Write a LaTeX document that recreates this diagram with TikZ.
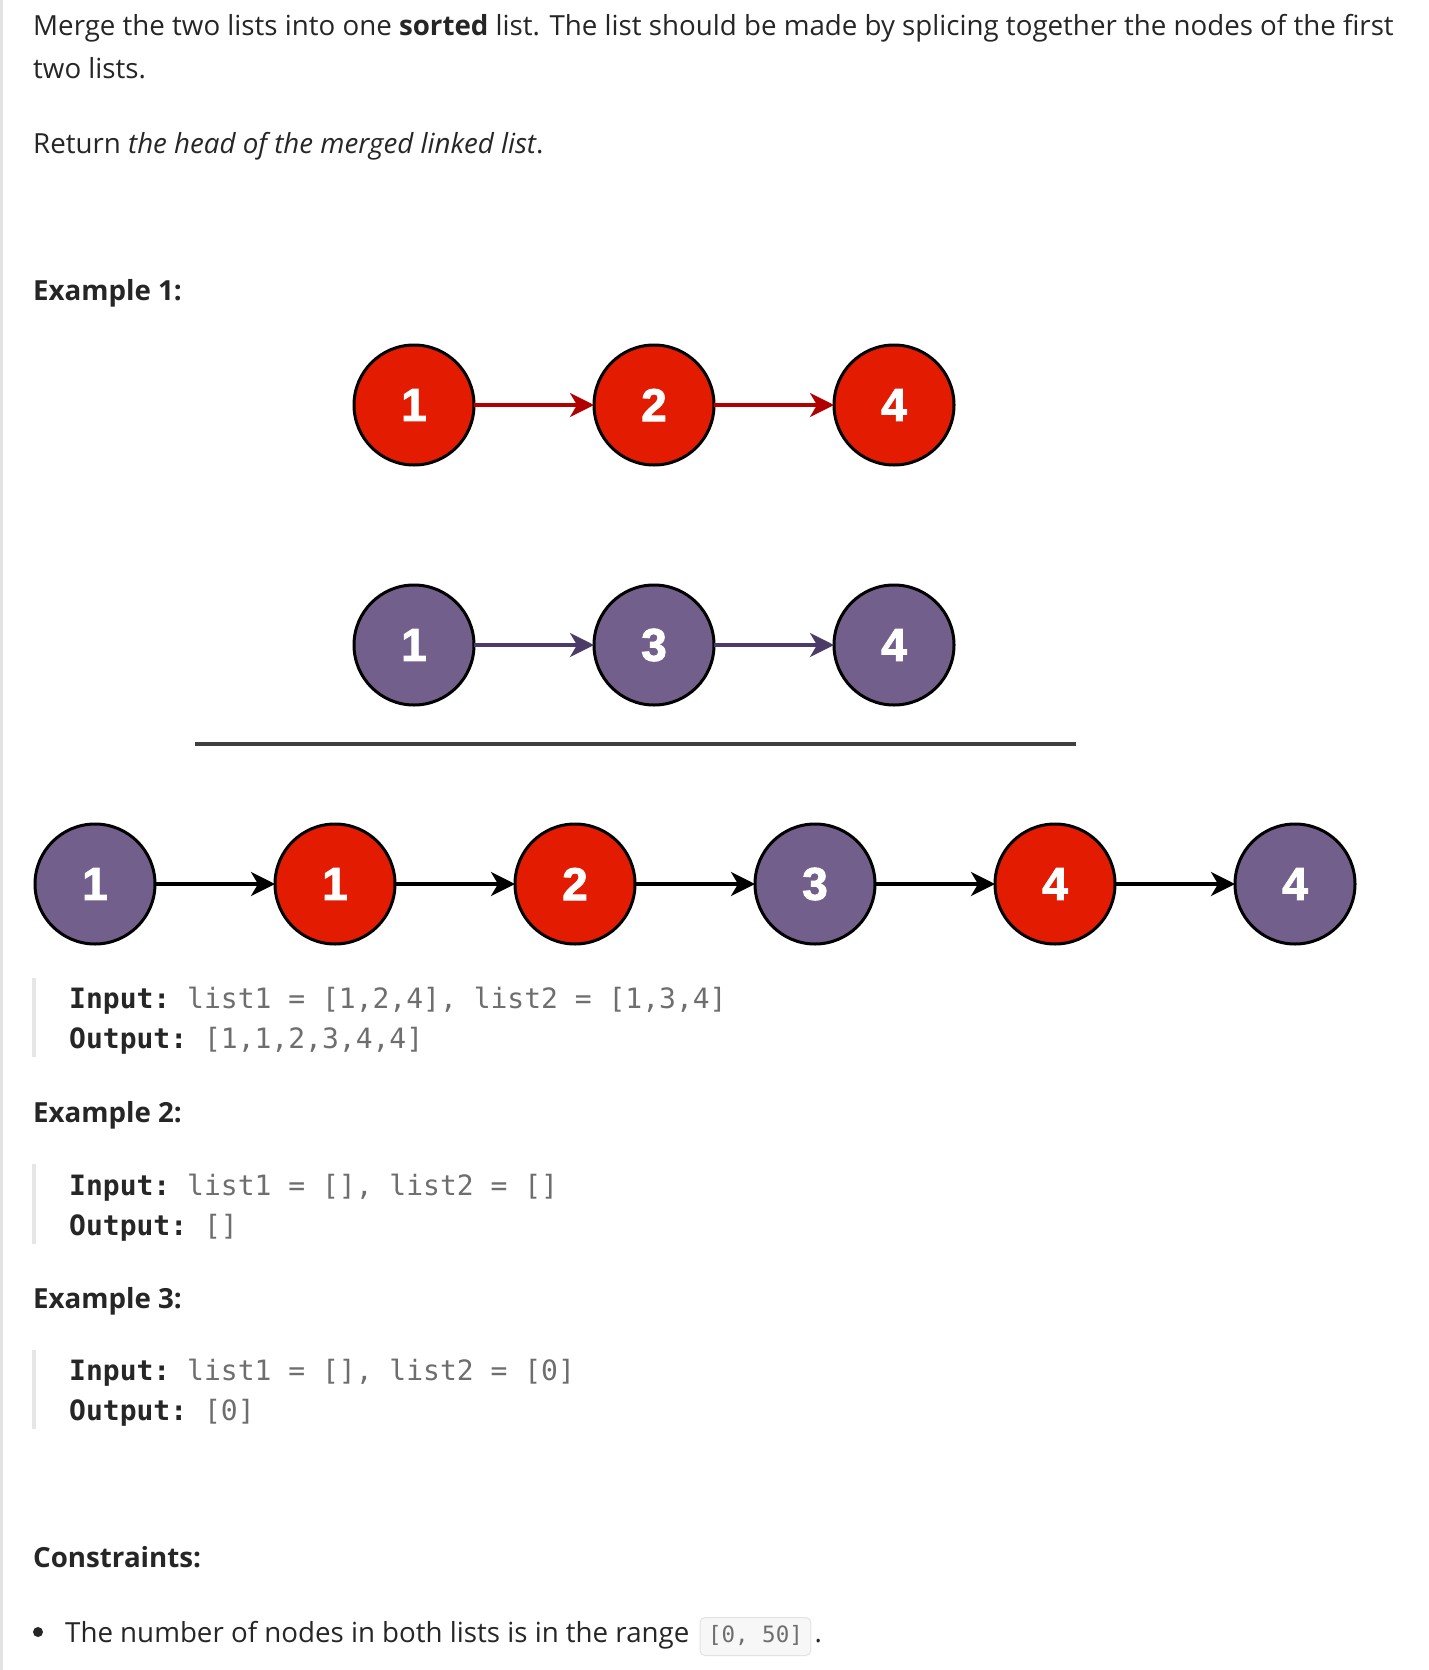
\documentclass[tikz,border=0pt]{standalone}
\usepackage{fontspec}
\setmainfont{Open Sans}
\setmonofont{DejaVu Sans Mono}
\newfontfamily\digitfont{Liberation Sans Bold}[FakeBold=2]
\usetikzlibrary{arrows.meta,positioning}
\definecolor{txtcol}{HTML}{262626}
\definecolor{codegray}{HTML}{6E6E6E}
\definecolor{nodered}{HTML}{E31B00}
\definecolor{nodepurple}{HTML}{735F8C}
\definecolor{linkred}{HTML}{B00000}
\definecolor{linkpurple}{HTML}{4B3B66}
\definecolor{rulecol}{HTML}{404040}
\definecolor{barcol}{HTML}{E6E6E6}
\definecolor{pagecol}{HTML}{E3E3E3}
\definecolor{inlinebg}{HTML}{F7F7F7}
\definecolor{inlinebd}{HTML}{E3E3E3}
\newcommand{\inlbl}[1]{\textbf{\textcolor{txtcol}{#1}}}

\begin{document}
\begin{tikzpicture}[x=1pt, y=-1pt, node distance=120pt,
              >={Stealth[length=24pt,width=24pt,inset=7pt]},
         rnode/.style = {circle, draw=black, line width=3pt, fill=nodered, minimum size=120pt,
                         inner sep=0pt, outer sep=0pt, text=white,
                         font=\digitfont\fontsize{46}{46}\selectfont},
         pnode/.style = {rnode, fill=nodepurple},
           txt/.style = {anchor=base west, inner sep=0pt, text=txtcol, font=\fontsize{27.7}{33}\selectfont},
          head/.style = {txt, font=\bfseries\fontsize{27.7}{33}\selectfont},
          code/.style = {anchor=base west, inner sep=0pt, text=codegray, font=\ttfamily\fontsize{28}{34}\selectfont},
           inl/.style = {draw=inlinebd, fill=inlinebg, rounded corners=5pt, line width=1pt, text=codegray,
                         inner xsep=8pt, inner ysep=8.5pt, text height=16pt, text depth=5pt,
                         font=\ttfamily\fontsize{22.5}{26}\selectfont},
          link/.style = {line width=3.5pt},
]
\fill[white] (0,0) rectangle (1428,1670);
\useasboundingbox (0,0) rectangle (1428,1670);
\fill[pagecol] (0,0) rectangle (2.5,1670);

%% problem text
\node [txt] (intro1) at (33,36) {Merge the two lists into one \textbf{sorted} list. The list should be made by splicing together the nodes of the first};
\node [txt] (intro2) at (33,78) {two lists.};
\node [txt] (intro3) at (33,153) {Return \textit{the head of the merged linked list}.};

%% example 1
\node [head] (ex1) at (33,300) {Example 1:};
\node [rnode]               (a1) at (414,405) {1};
\node [rnode, right=of a1]  (a2) {2};
\node [rnode, right=of a2]  (a4) {4};
\node [pnode]               (b1) at (414,645) {1};
\node [pnode, right=of b1]  (b3) {3};
\node [pnode, right=of b3]  (b4) {4};
\coordinate (rule w) at (195,744);
\coordinate (rule e) at (1076,744);
\draw [rulecol, line width=4pt] (rule w) -- (rule e);
\node [pnode]               (m1) at (95,884) {1};
\node [rnode, right=of m1]  (m2) {1};
\node [rnode, right=of m2]  (m3) {2};
\node [pnode, right=of m3]  (m4) {3};
\node [rnode, right=of m4]  (m5) {4};
\node [pnode, right=of m5]  (m6) {4};
%% links
\path[draw,->,link,linkred] (a1) edge (a2)
               (a2) edge (a4);
\path[draw,->,link,linkpurple] (b1) edge (b3)
               (b3) edge (b4);
\path[draw,->,link,black] (m1) edge (m2)
               (m2) edge (m3)
               (m3) edge (m4)
               (m4) edge (m5)
               (m5) edge (m6);
\fill[barcol] (32,978) rectangle (36,1057);
\node [code] (in1)  at (69,1008) {\inlbl{Input:} list1 = [1,2,4], list2 = [1,3,4]};
\node [code] (out1) at (69,1048) {\inlbl{Output:} [1,1,2,3,4,4]};

%% example 2
\node [head] (ex2) at (33,1122) {Example 2:};
\fill[barcol] (32,1164) rectangle (36,1244);
\node [code] (in2)  at (69,1195) {\inlbl{Input:} list1 = [], list2 = []};
\node [code] (out2) at (69,1235) {\inlbl{Output:} []};

%% example 3
\node [head] (ex3) at (33,1308) {Example 3:};
\fill[barcol] (32,1350) rectangle (36,1429);
\node [code] (in3)  at (69,1380) {\inlbl{Input:} list1 = [], list2 = [0]};
\node [code] (out3) at (69,1420) {\inlbl{Output:} [0]};

%% constraints
\node [head] (cons) at (33,1567) {Constraints:};
\node [circle, fill=txtcol, minimum size=10pt, inner sep=0pt] (bullet) at (38,1632) {};
\node [txt] (range) at (65,1642) {The number of nodes in both lists is in the range};
\node [inl, right=10pt of range.base east, anchor=base west] (rng) {[0, 50]};
\node [txt, right=3pt of rng.base east, anchor=base west] (dot) {.};
\end{tikzpicture}
\end{document}
